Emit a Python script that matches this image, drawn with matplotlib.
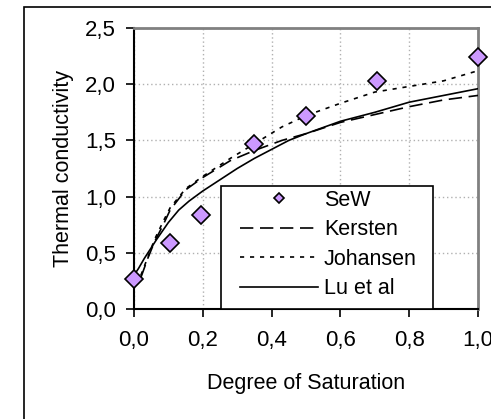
import matplotlib.pyplot as plt
import matplotlib.patches as mpatches
import numpy as np

# measured points (SeW)
sew_x = [0.0, 0.105, 0.195, 0.35, 0.50, 0.706, 1.0]
sew_y = [0.27, 0.59, 0.84, 1.47, 1.72, 2.03, 2.24]

# model curves
kersten_x = [0.02, 0.04, 0.06, 0.085, 0.105, 0.15, 0.2, 0.28, 0.35, 0.43, 0.5, 0.6, 0.7, 0.8, 0.9, 1.0]
kersten_y = [0.28, 0.45, 0.60, 0.75, 0.88, 1.06, 1.17, 1.32, 1.41, 1.50, 1.56, 1.66, 1.73, 1.80, 1.86, 1.90]

johansen_x = [0.02, 0.04, 0.06, 0.085, 0.105, 0.15, 0.2, 0.28, 0.35, 0.43, 0.5, 0.6, 0.7, 0.8, 0.9, 1.0]
johansen_y = [0.30, 0.46, 0.62, 0.78, 0.90, 1.07, 1.18, 1.34, 1.47, 1.62, 1.72, 1.83, 1.93, 1.98, 2.03, 2.12]

lu_x = [0.0, 0.013, 0.03, 0.066, 0.1, 0.13, 0.16, 0.2, 0.25, 0.3, 0.35, 0.45, 0.5, 0.6, 0.7, 0.8, 0.9, 1.0]
lu_y = [0.30, 0.36, 0.45, 0.62, 0.77, 0.88, 0.96, 1.05, 1.15, 1.25, 1.34, 1.50, 1.56, 1.67, 1.75, 1.84, 1.90, 1.96]

plt.rcParams['font.family'] = ['Liberation Sans', 'DejaVu Sans']

fig = plt.figure(figsize=(4.91, 4.19), dpi=100)
ax = fig.add_axes([134 / 491, 1 - 309 / 419, 344 / 491, 281 / 419])

# outer chart border (cut at right and bottom like the source)
fig.patches.append(mpatches.Rectangle((23.5 / 491, -0.1), 2, 1.1 - 7.5 / 419,
                                      transform=fig.transFigure, fill=False,
                                      edgecolor='black', lw=1.2))

ax.plot(kersten_x, kersten_y, color='black', lw=1.2, dashes=(8, 4), label='Kersten', zorder=3)
ax.plot(johansen_x, johansen_y, color='black', lw=1.2, dashes=(2.5, 3.5), label='Johansen', zorder=3)
ax.plot(lu_x, lu_y, color='black', lw=1.2, label='Lu et al', zorder=3)
ax.plot(sew_x, sew_y, linestyle='none', marker='D', ms=9, mfc='#cc99ff', mec='black',
        mew=1.2, label='SeW', zorder=5, clip_on=False)

ax.set_xlim(0, 1)
ax.set_ylim(0, 2.5)
ax.set_xticks(np.arange(0, 1.01, 0.2))
ax.set_yticks(np.arange(0, 2.51, 0.5))
ax.set_xticklabels([f'{v:.1f}'.replace('.', ',') for v in np.arange(0, 1.01, 0.2)])
ax.set_yticklabels([f'{v:.1f}'.replace('.', ',') for v in np.arange(0, 2.51, 0.5)])
ax.tick_params(direction='out', length=6, width=1.2, labelsize=16)
ax.tick_params(axis='x', pad=9)
ax.tick_params(axis='y', pad=7)
ax.grid(True, color='#b0b0b0', linestyle=(0, (1, 2)), lw=1)
ax.set_axisbelow(True)

for s in ['left', 'bottom']:
    ax.spines[s].set_color('black')
    ax.spines[s].set_linewidth(1.5)
for s in ['top', 'right']:
    ax.spines[s].set_color('#808080')
    ax.spines[s].set_linewidth(2)

ax.set_xlabel('Degree of Saturation', fontsize=15.5, labelpad=16)
ax.set_ylabel('Thermal conductivity', fontsize=15.5, labelpad=8)

# legend box drawn by hand so its padding matches the source
ax.add_patch(mpatches.Rectangle((87 / 344, 0), 212 / 344, 123 / 281, transform=ax.transAxes,
                                facecolor='white', edgecolor='black', lw=1.2, zorder=4,
                                clip_on=False))
h, l = ax.get_legend_handles_labels()
order = [3, 0, 1, 2]
leg = ax.legend([h[i] for i in order], [l[i] for i in order], loc='upper left',
                bbox_to_anchor=(106 / 344, 119.5 / 281), fontsize=15.5, markerscale=0.55,
                frameon=False, handlelength=3.6, handletextpad=0.3, labelspacing=0.4,
                borderaxespad=0, borderpad=0)
leg.set_zorder(6)

fig.savefig('out.png', dpi=100)
